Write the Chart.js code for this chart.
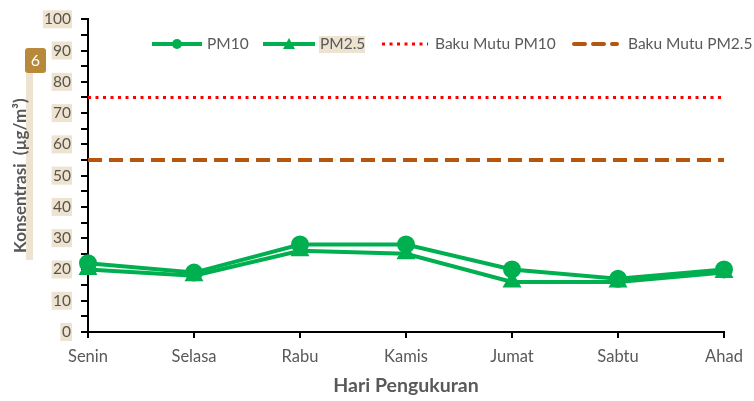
<!DOCTYPE html>
<html>
<head>
<meta charset="utf-8">
<script src="https://cdn.jsdelivr.net/npm/chart.js@4.4.0/dist/chart.umd.min.js"></script>
<style>
  html, body { margin: 0; padding: 0; background: #fff; }
  #wrap { width: 754px; height: 401px; }
</style>
</head>
<body>
<div id="wrap"><canvas id="chart" width="754" height="401"></canvas></div>
<script>
// data
const hari = ['Senin', 'Selasa', 'Rabu', 'Kamis', 'Jumat', 'Sabtu', 'Ahad'];
const pm10 = [22, 19, 28, 28, 20, 17, 20];
const pm25 = [20, 18, 26, 25, 16, 16, 19];
const bakuPm10 = [75, 75, 75, 75, 75, 75, 75];
const bakuPm25 = [55, 55, 55, 55, 55, 55, 55];
const labelSeri = ['PM10', 'PM2.5', 'Baku Mutu PM10', 'Baku Mutu PM2.5'];

const hijau = '#00B050';
const merah = '#FF0000';
const coklat = '#B4560F';
const abu = '#595959';
const krem = '#EDE3D0';
const FONT = 'Lato, "Open Sans", sans-serif';

// legend & highlight manual
const hiasan = {
    id: 'hiasan',
    beforeDraw(chart) {
        const c = chart.ctx;
        const y = chart.scales.y;
        c.save();
        // highlight judul sumbu y
        c.fillStyle = krem;
        c.fillRect(26, 73, 7, 187);
        // highlight label tick y
        c.font = '15px ' + FONT;
        y.ticks.forEach(t => {
            if (t.value % 10 !== 0) return;
            const py = y.getPixelForValue(t.value);
            const w = c.measureText(String(t.value)).width;
            c.fillRect(71 - w - 2, py - 9, w + 3, 18);
        });
        // highlight PM2.5 legend
        c.fillRect(319, 36, 46, 17);
        c.restore();
    },
    afterDraw(chart) {
        const c = chart.ctx;
        const ly = 44;
        c.save();
        c.lineCap = 'butt';
        // PM10
        c.strokeStyle = hijau; c.lineWidth = 4;
        c.beginPath(); c.moveTo(152, ly); c.lineTo(202, ly); c.stroke();
        c.fillStyle = hijau;
        c.beginPath(); c.arc(177, ly, 5, 0, Math.PI * 2); c.fill();
        // PM2.5
        c.beginPath(); c.moveTo(263, ly); c.lineTo(315, ly); c.stroke();
        c.beginPath(); c.moveTo(289, ly - 6); c.lineTo(295, ly + 5); c.lineTo(283, ly + 5); c.closePath(); c.fill();
        // baku mutu PM10
        c.strokeStyle = merah; c.lineWidth = 3;
        c.setLineDash([3, 4.5]);
        c.beginPath(); c.moveTo(382, ly); c.lineTo(428, ly); c.stroke();
        // baku mutu PM2.5
        c.strokeStyle = coklat; c.lineWidth = 4; c.lineCap = 'round';
        c.setLineDash([11, 8]);
        c.beginPath(); c.moveTo(574, ly); c.lineTo(617, ly); c.stroke();
        c.setLineDash([]);
        // teks
        c.fillStyle = abu;
        c.font = '15.5px ' + FONT;
        c.textBaseline = 'middle';
        c.fillText(labelSeri[0], 207, ly);
        c.fillText(labelSeri[1], 320, ly);
        c.fillText(labelSeri[2], 435, ly);
        c.fillText(labelSeri[3], 628, ly);
        // badge 6
        c.fillStyle = '#B8893A';
        c.beginPath(); c.roundRect(25, 48, 21, 25, 3); c.fill();
        c.fillStyle = '#fff';
        c.font = '16px ' + FONT;
        c.textAlign = 'center';
        c.fillText('6', 35.5, 61);
        c.restore();
    }
};

const ctx = document.getElementById('chart').getContext('2d');
const chart = new Chart(ctx, {
    type: 'line',
    data: {
        labels: hari,
        datasets: [
            {
                label: labelSeri[0], data: pm10,
                borderColor: hijau, backgroundColor: hijau,
                borderWidth: 4, pointStyle: 'circle', pointRadius: 7
            },
            {
                label: labelSeri[1], data: pm25,
                borderColor: hijau, backgroundColor: hijau,
                borderWidth: 4, pointStyle: 'triangle', pointRadius: 7
            },
            {
                label: labelSeri[2], data: bakuPm10,
                borderColor: merah, borderWidth: 3,
                borderDash: [3, 4.5], pointRadius: 0
            },
            {
                label: labelSeri[3], data: bakuPm25,
                borderColor: coklat, borderWidth: 4,
                borderDash: [14, 7], pointRadius: 0
            }
        ]
    },
    options: {
        responsive: false,
        animation: false,
        layout: { padding: { top: 16, right: 30, left: 0, bottom: 0 } },
        scales: {
            x: {
                offset: false,
                grid: { drawOnChartArea: false, drawTicks: true, tickLength: 6, color: '#000', lineWidth: 2 },
                border: { color: '#000', width: 2 },
                ticks: { color: abu, font: { family: FONT, size: 16.5 }, padding: 9, maxRotation: 0 },
                title: {
                    display: true, text: 'Hari Pengukuran', color: abu,
                    font: { family: FONT, size: 19.5, weight: 'bold' }, padding: { top: 2 }
                },
                afterFit(s) { s.height = 69; }
            },
            y: {
                min: 0, max: 100,
                grid: { drawOnChartArea: false, drawTicks: true, tickLength: 7, color: '#000', lineWidth: 2 },
                border: { color: '#000', width: 2 },
                ticks: {
                    stepSize: 5, autoSkip: false, color: '#5a5448',
                    font: { family: FONT, size: 15.5 }, padding: 10,
                    callback: v => (v % 10 === 0 ? v : '')
                },
                title: {
                    display: true, text: 'Konsentrasi  (µg/m³)', color: abu,
                    font: { family: FONT, size: 17, weight: 'bold' }, padding: { top: 10, bottom: 0 }
                },
                afterFit(s) { s.width = 88; }
            }
        },
        plugins: {
            legend: { display: false },
            tooltip: { enabled: false }
        }
    },
    plugins: [hiasan]
});
</script>
</body>
</html>
